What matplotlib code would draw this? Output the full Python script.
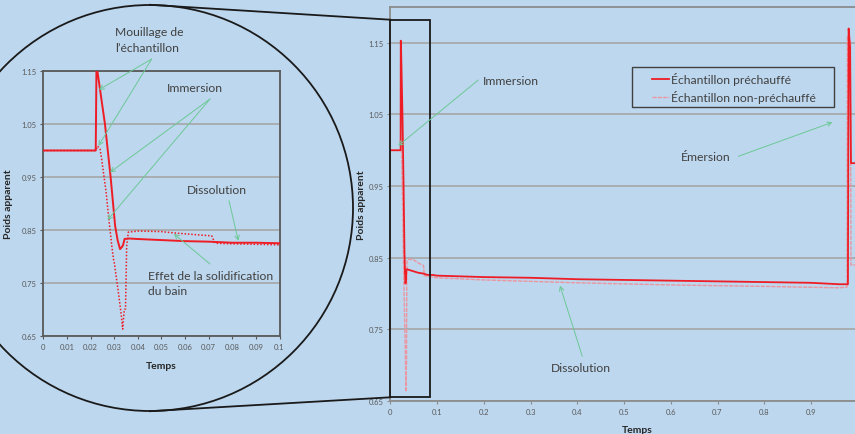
import matplotlib
matplotlib.use("Agg")
import matplotlib.pyplot as plt
from matplotlib.patches import Ellipse, Rectangle
from matplotlib.lines import Line2D

plt.rcParams['font.family'] = ['Lato', 'DejaVu Sans']

# ---------------- data ----------------
x_pre = [0, 0.0222, 0.0225, 0.0229, 0.0261, 0.0285, 0.0304, 0.0315, 0.0325, 0.0333,
         0.0338, 0.0344, 0.036, 0.04, 0.05, 0.06, 0.07, 0.08, 0.09, 0.1,
         0.2, 0.3, 0.4, 0.5, 0.6, 0.7, 0.8, 0.9, 0.96, 0.979, 0.9805, 0.9835, 0.9855, 0.995]
y_pre = [1.0, 1.0, 1.153, 1.15, 1.05, 0.95, 0.858, 0.83, 0.814, 0.818,
         0.822, 0.833, 0.834, 0.833, 0.831, 0.829, 0.828, 0.826, 0.826, 0.825,
         0.823, 0.822, 0.820, 0.819, 0.818, 0.817, 0.816, 0.815, 0.813, 0.813, 1.17, 1.145, 0.982, 0.982]

x_non = [0, 0.0222, 0.0230, 0.0240, 0.0247, 0.0266, 0.0276, 0.0290, 0.0297, 0.0300,
         0.0318, 0.0330, 0.0336, 0.0343, 0.0348, 0.0353, 0.0360, 0.04, 0.05, 0.0565,
         0.065, 0.0713, 0.0727, 0.08, 0.09, 0.1, 0.2, 0.4, 0.6, 0.8,
         0.96, 0.977, 0.978, 0.9845, 0.9855, 0.995]
y_non = [1.0, 1.0, 1.008, 1.003, 0.984, 0.921, 0.877, 0.82, 0.795, 0.79,
         0.732, 0.69, 0.663, 0.70, 0.701, 0.82, 0.846, 0.848, 0.847, 0.844,
         0.841, 0.839, 0.825, 0.824, 0.823, 0.822, 0.819, 0.815, 0.812, 0.810,
         0.808, 0.809, 1.16, 1.15, 0.84, 0.84]

label_pre = "Échantillon préchauffé"
label_non = "Échantillon non-préchauffé"

main_xticks = [0, 0.1, 0.2, 0.3, 0.4, 0.5, 0.6, 0.7, 0.8, 0.9]
main_xlabels = ["0", "0.1", "0.2", "0.3", "0.4", "0.5", "0.6", "0.7", "0.8", "0.9"]
inset_xticks = [0, 0.01, 0.02, 0.03, 0.04, 0.05, 0.06, 0.07, 0.08, 0.09, 0.1]
inset_xlabels = ["0", "0.01", "0.02", "0.03", "0.04", "0.05", "0.06", "0.07", "0.08", "0.09", "0.1"]
yticks = [0.65, 0.75, 0.85, 0.95, 1.05, 1.15]
ylabels = ["0.65", "0.75", "0.85", "0.95", "1.05", "1.15"]

# ---------------- styling ----------------
W, H = 855, 435
BG = '#bdd7ee'
RED = '#ee1c25'
PINK = '#eb96a0'
TXT = '#404040'
ARROW = '#6cc896'
GRID = '#a6a6a6'

fig = plt.figure(figsize=(W / 100, H / 100), dpi=100, facecolor=BG)


def fx(px):
    return px / W


def fy(py):
    return 1 - py / H


# main axes
ax = fig.add_axes([fx(390.25), fy(402), (W - 390.25) / W, 394 / H])
ax.set_facecolor(BG)
ax.plot(x_pre, y_pre, color=RED, lw=1.3, zorder=3, label=label_pre)
ax.plot(x_non, y_non, color=PINK, lw=1.0, ls=(0, (3, 0.8)), zorder=2, label=label_non)
ax.set_xlim(0, (W - 390.25) / 467.5)
ax.set_ylim(0.65, 1.2)
ax.set_xticks(main_xticks)
ax.set_xticklabels(main_xlabels)
ax.set_yticks(yticks)
ax.set_yticklabels(ylabels)
ax.grid(axis='y', color=GRID, lw=1.2)
ax.set_axisbelow(True)
for s in ['left', 'bottom', 'top']:
    ax.spines[s].set_color('#8c8c8c')
    ax.spines[s].set_linewidth(1.3)
ax.spines['right'].set_visible(False)
ax.tick_params(axis='both', labelsize=5.5, colors='#8c8c8c', labelcolor='#595959', length=2.5, width=0.8, pad=2.5)
ax.set_xlabel("Temps", fontsize=7.5, fontweight='bold', color='#262626')
ax.xaxis.set_label_coords((637 - 390.25) / (W - 390.25), (402 - 426.5) / 394)
ax.set_ylabel("Poids apparent", fontsize=7.5, fontweight='bold', color='#262626')
ax.yaxis.set_label_coords((366 - 390.25) / (W - 390.25), 0.5)

# zoom rectangle
ax.add_patch(Rectangle((0, 0.655), 0.0857, 1.182 - 0.655, fill=False, ec='#1a1a1a', lw=1.3,
                       clip_on=False, zorder=5))

# legend
leg = ax.legend(loc='center left', bbox_to_anchor=(fx(652), fy(88.4)), bbox_transform=fig.transFigure,
                frameon=False, fontsize=8.7, borderaxespad=0, borderpad=0,
                handlelength=17 / 12.08, handletextpad=0.17, labelspacing=0.4)
for t in leg.get_texts():
    t.set_color(TXT)
fig.add_artist(Rectangle((fx(632.3), fy(107.7)), (834.3 - 632.3) / W, (107.7 - 68.3) / H,
                         transform=fig.transFigure, fill=False, ec='#404040', lw=1.0))

# inset axes
axi = fig.add_axes([fx(43.3), fy(337), 236.2 / W, 265 / H])
axi.set_facecolor(BG)
axi.plot(x_pre, y_pre, color=RED, lw=1.4, zorder=3)
axi.plot(x_non, y_non, color=RED, lw=1.1, ls=(0, (1, 1.2)), zorder=2)
axi.set_xlim(0, 0.1)
axi.set_ylim(0.65, 1.15)
axi.set_xticks(inset_xticks)
axi.set_xticklabels(inset_xlabels)
axi.set_yticks(yticks)
axi.set_yticklabels(ylabels)
axi.grid(axis='y', color=GRID, lw=1.2)
axi.set_axisbelow(True)
for s in axi.spines.values():
    s.set_color('#595959')
    s.set_linewidth(1.3)
axi.tick_params(axis='both', labelsize=5.5, colors='#595959', labelcolor='#595959', length=2.5, width=0.8, pad=2.5)
axi.set_xlabel("Temps", fontsize=7.5, fontweight='bold', color='#262626')
axi.xaxis.set_label_coords(0.5, (337 - 361.7) / 265)
axi.set_ylabel("Poids apparent", fontsize=7.5, fontweight='bold', color='#262626')
axi.yaxis.set_label_coords((13 - 43.3) / 236.2, 0.5)

# magnifier circle and connecting lines
fig.add_artist(Ellipse((fx(150), fy(209)), 406 / W, 406 / H, transform=fig.transFigure,
                       fill=False, ec='#1a1a1a', lw=1.3))
fig.add_artist(Line2D([fx(150), fx(390.25)], [fy(5.8), fy(20.7)], transform=fig.transFigure,
                      color='#1a1a1a', lw=1.3))
fig.add_artist(Line2D([fx(150), fx(390.25)], [fy(412.2), fy(398.3)], transform=fig.transFigure,
                      color='#1a1a1a', lw=1.3))

# annotation texts
texts = [
    ("Mouillage de", 115, 33),
    ("l’échantillon", 115, 48),
    ("Immersion", 166.7, 89),
    ("Dissolution", 186.7, 191),
    ("Effet de la solidification", 147.7, 276),
    ("du bain", 147.7, 291.5),
    ("Immersion", 483.3, 81.7),
    ("Émersion", 680.7, 157.7),
    ("Dissolution", 551, 369),
]
for s, px, py in texts:
    fig.text(fx(px), fy(py), s, fontsize=8.7, color=TXT, ha='left', va='center')

arrows = [
    ((151.7, 60), (99, 90.7)),
    ((151.7, 60), (98.5, 146.7)),
    ((210, 100), (110, 173.3)),
    ((210, 100), (107.5, 221)),
    ((229, 201.7), (238.3, 241.7)),
    ((210, 265), (174, 235)),
    ((478.3, 81), (398.3, 146.7)),
    ((738.3, 157.3), (832.3, 123.3)),
    ((582.3, 357.3), (560, 286.7)),
]
for (x0, y0), (x1, y1) in arrows:
    fig.add_artist(matplotlib.patches.FancyArrowPatch(
        (fx(x0), fy(y0)), (fx(x1), fy(y1)), transform=fig.transFigure,
        arrowstyle='->,head_length=3,head_width=1.6', color=ARROW, lw=0.7,
        shrinkA=0, shrinkB=0, mutation_scale=1, zorder=6))

fig.savefig("out.png", dpi=100, facecolor=BG)
